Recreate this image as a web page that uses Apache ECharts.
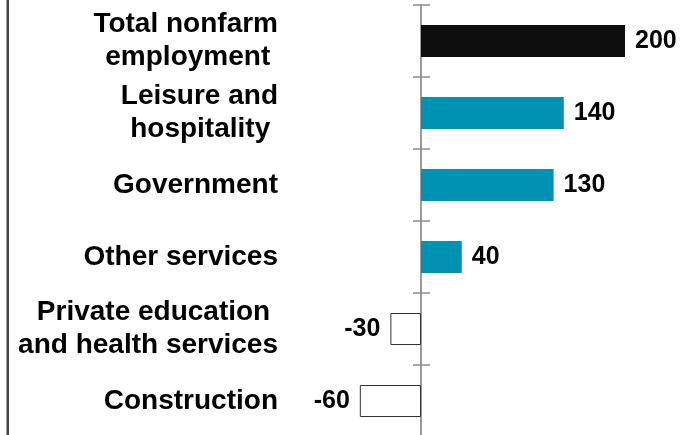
<!DOCTYPE html>
<html>
<head>
<meta charset="utf-8">
<script src="https://cdn.jsdelivr.net/npm/echarts@6/dist/echarts.min.js"></script>
<style>
  html, body { margin: 0; padding: 0; background: #fff; }
  #chart { width: 694px; height: 435px; }
</style>
</head>
<body>
<div id="chart"></div>
<script>
// Over-the-month change in employment by industry (thousands)
const categories = [
  'Total nonfarm\nemployment ',
  'Leisure and\nhospitality ',
  'Government',
  'Other services',
  'Private education \nand health services',
  'Construction'
];
const changes = [200, 140, 130, 40, -30, -60];

const TOTAL_COLOR = '#0e0e0e';
const GAIN_COLOR = '#0091b3';
const FONT = '"Liberation Sans", Arial, Helvetica, sans-serif';

const barData = changes.map((v, i) => {
  const neg = v < 0;
  return {
    value: v,
    itemStyle: neg
      ? { color: '#ffffff', borderColor: '#333333', borderWidth: 1 }
      : { color: i === 0 ? TOTAL_COLOR : GAIN_COLOR },
    label: { position: neg ? 'left' : 'right' }
  };
});

const chart = echarts.init(document.getElementById('chart'), null, { renderer: 'canvas' });

chart.setOption({
  animation: false,
  backgroundColor: '#ffffff',
  grid: { left: 217, right: 18, top: 5, bottom: -2, outerBoundsMode: 'none' },
  xAxis: {
    type: 'value',
    min: -200,
    max: 250,
    show: false
  },
  yAxis: [
    {
      type: 'category',
      data: categories,
      inverse: true,
      axisLine: { onZero: true, onZeroAxisIndex: 0, lineStyle: { color: '#7a7a7a', width: 1.5 } },
      axisTick: { show: true, inside: false, length: 8, lineStyle: { color: '#8c8c8c', width: 1.5 } },
      axisLabel: {
        // labels sit against the grid edge, so pull them right of it
        margin: -61,
        color: '#000',
        fontFamily: FONT,
        fontWeight: 'bold',
        fontSize: 28,
        lineHeight: 33,
        align: 'right'
      },
      splitLine: { show: false }
    },
    {
      type: 'category',
      data: categories,
      inverse: true,
      position: 'left',
      axisLine: { show: false, onZero: true, onZeroAxisIndex: 0 },
      axisTick: { show: true, inside: true, length: 9, lineStyle: { color: '#8c8c8c', width: 1.5 } },
      axisLabel: { show: false },
      splitLine: { show: false }
    }
  ],
  series: [
    {
      type: 'bar',
      data: barData,
      barWidth: 32,
      label: {
        show: true,
        distance: 10,
        color: '#000',
        fontFamily: FONT,
        fontWeight: 'bold',
        fontSize: 25
      }
    }
  ],
  graphic: [
    {
      type: 'rect',
      left: 6.5,
      top: 0,
      shape: { width: 2.5, height: 435 },
      style: { fill: '#444444' },
      silent: true
    }
  ]
});
</script>
</body>
</html>
